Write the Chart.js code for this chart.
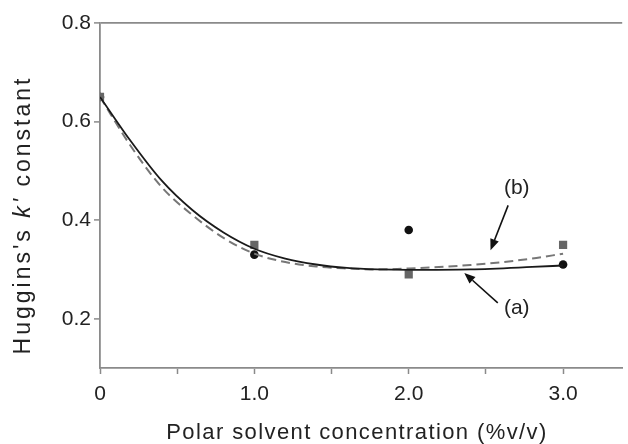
<!DOCTYPE html>
<html>
<head>
<meta charset="utf-8">
<script src="https://cdn.jsdelivr.net/npm/chart.js"></script>
<style>
  body { margin: 0; background: #fff; }
</style>
</head>
<body>
<canvas id="hugginsChart" width="628" height="444"></canvas>
<script>
// measured points
var concentration = [0, 1.0, 2.0, 3.0];
var kPrimeA = [0.65, 0.33, 0.38, 0.31];   // circles, curve (a)
var kPrimeB = [0.65, 0.35, 0.29, 0.35];   // squares, curve (b)

// fitted curves
var fitX = [0, 0.2, 0.4, 0.6, 0.8, 1.0, 1.2, 1.4, 1.6, 1.8, 2.0, 2.4, 2.8, 3.0];
var fitA = [0.65, 0.56, 0.48, 0.42, 0.375, 0.342, 0.322, 0.31, 0.303, 0.30, 0.299, 0.30, 0.305, 0.308];
var fitB = [0.65, 0.55, 0.467, 0.41, 0.364, 0.332, 0.315, 0.306, 0.302, 0.30, 0.302, 0.309, 0.322, 0.332];

var xTicks = [0, 0.5, 1.0, 1.5, 2.0, 2.5, 3.0];
var yTicks = [0.2, 0.4, 0.6, 0.8];

var FONT = "'Liberation Sans', Arial, sans-serif";
var AXIS_GREY = '#8a8a8a';

function pairs(xs, ys) {
    return xs.map((x, i) => ({ x: x, y: ys[i] }));
}

// axis titles, y title has an italic k'
var axisTitles = {
    id: 'axisTitles',
    afterDraw(chart) {
        var ctx = chart.ctx;
        ctx.save();
        ctx.fillStyle = '#222';
        ctx.textBaseline = 'middle';

        ctx.font = '22px ' + FONT;
        ctx.letterSpacing = '1.4px';
        ctx.textAlign = 'center';
        ctx.fillText('Polar solvent concentration (%v/v)', 357, 433);

        var parts = [
            { t: "Huggins's ", f: '23px ' + FONT },
            { t: "k'", f: 'italic 23px ' + FONT },
            { t: ' constant', f: '23px ' + FONT }
        ];
        ctx.letterSpacing = '3px';
        var total = 0;
        parts.forEach(p => { ctx.font = p.f; p.w = ctx.measureText(p.t).width; total += p.w; });
        ctx.translate(24, 215);
        ctx.rotate(-Math.PI / 2);
        ctx.textAlign = 'left';
        var x = -total / 2;
        parts.forEach(p => { ctx.font = p.f; ctx.fillText(p.t, x, 0); x += p.w; });
        ctx.restore();
    }
};

// "(a)" / "(b)" labels with arrows, placed in data units
var curveLabels = [
    { text: '(b)', at: [2.70, 0.464], from: [2.644, 0.430], to: [2.53, 0.339] },
    { text: '(a)', at: [2.70, 0.222], from: [2.577, 0.232], to: [2.36, 0.293] }
];

var arrowLabels = {
    id: 'arrowLabels',
    afterDatasetsDraw(chart) {
        var ctx = chart.ctx;
        var xs = chart.scales.x, ys = chart.scales.y;
        ctx.save();
        ctx.strokeStyle = '#111';
        ctx.fillStyle = '#111';
        ctx.lineWidth = 1.6;
        curveLabels.forEach(l => {
            var x0 = xs.getPixelForValue(l.from[0]), y0 = ys.getPixelForValue(l.from[1]);
            var x1 = xs.getPixelForValue(l.to[0]), y1 = ys.getPixelForValue(l.to[1]);
            var ang = Math.atan2(y1 - y0, x1 - x0);
            var head = 11, half = 4.5;
            var bx = x1 - head * Math.cos(ang), by = y1 - head * Math.sin(ang);
            ctx.beginPath();
            ctx.moveTo(x0, y0);
            ctx.lineTo(bx, by);
            ctx.stroke();
            ctx.beginPath();
            ctx.moveTo(x1, y1);
            ctx.lineTo(bx + half * Math.sin(ang), by - half * Math.cos(ang));
            ctx.lineTo(bx - half * Math.sin(ang), by + half * Math.cos(ang));
            ctx.closePath();
            ctx.fill();

            ctx.font = '21px ' + FONT;
            ctx.textAlign = 'center';
            ctx.textBaseline = 'middle';
            ctx.fillStyle = '#222';
            ctx.fillText(l.text, xs.getPixelForValue(l.at[0]), ys.getPixelForValue(l.at[1]));
            ctx.fillStyle = '#111';
        });
        ctx.restore();
    }
};

var ctxHuggins = document.getElementById('hugginsChart').getContext('2d');
var hugginsChart = new Chart(ctxHuggins, {
    type: 'scatter',
    data: {
        datasets: [{
            type: 'line',
            label: '(a)',
            data: pairs(fitX, fitA),
            borderColor: '#1a1a1a',
            borderWidth: 1.8,
            pointRadius: 0,
            cubicInterpolationMode: 'monotone',
            fill: false
        },
        {
            type: 'line',
            label: '(b)',
            data: pairs(fitX, fitB),
            borderColor: '#777',
            borderWidth: 2,
            borderDash: [9, 5],
            pointRadius: 0,
            cubicInterpolationMode: 'monotone',
            fill: false
        },
        {
            label: '(b) points',
            data: pairs(concentration, kPrimeB),
            pointStyle: 'rect',
            pointRadius: 5.8,
            backgroundColor: '#666',
            borderColor: '#666',
            borderWidth: 0
        },
        {
            label: '(a) points',
            data: pairs(concentration, kPrimeA),
            pointStyle: 'circle',
            pointRadius: 4.3,
            backgroundColor: '#111',
            borderColor: '#111',
            borderWidth: 0
        }]
    },
    options: {
        responsive: false,
        animation: false,
        layout: {
            padding: { top: 23, right: 0, left: 0, bottom: 0 }
        },
        plugins: {
            legend: { display: false },
            tooltip: { enabled: false }
        },
        scales: {
            x: {
                type: 'linear',
                min: 0,
                max: 3.383,
                afterBuildTicks: s => { s.ticks = xTicks.map(v => ({ value: v })); },
                afterFit: s => { s.height = 76; },
                ticks: {
                    autoSkip: false,
                    maxRotation: 0,
                    padding: 8,
                    color: '#222',
                    font: { family: FONT, size: 21 },
                    callback: v => v === 0 ? '0' : (Number.isInteger(v) ? v.toFixed(1) : '')
                },
                grid: {
                    drawOnChartArea: false,
                    tickLength: 6,
                    tickColor: AXIS_GREY,
                    tickWidth: 1.5
                },
                border: { color: AXIS_GREY, width: 1.8 }
            },
            y: {
                min: 0.1,
                max: 0.8,
                afterBuildTicks: s => { s.ticks = yTicks.map(v => ({ value: v })); },
                afterFit: s => { s.width = 100; },
                ticks: {
                    padding: 3,
                    color: '#222',
                    font: { family: FONT, size: 21 },
                    callback: v => v.toFixed(1)
                },
                grid: {
                    color: c => (c.tick && c.tick.value === 0.8) ? AXIS_GREY : 'transparent',
                    lineWidth: 1.8,
                    tickLength: 6,
                    tickColor: AXIS_GREY,
                    tickWidth: 1.5
                },
                border: { color: AXIS_GREY, width: 1.8 }
            }
        }
    },
    plugins: [arrowLabels, axisTitles]
});
</script>
</body>
</html>
